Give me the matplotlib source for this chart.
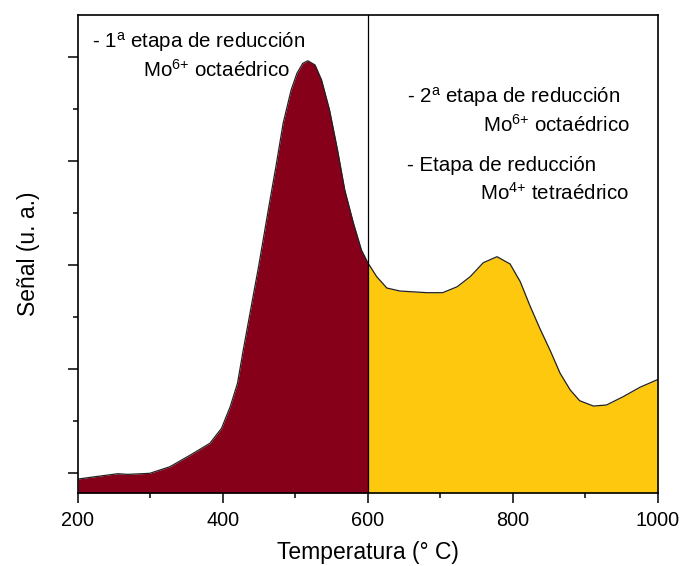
import matplotlib
matplotlib.use("Agg")
import matplotlib.pyplot as plt
from matplotlib.ticker import MultipleLocator, NullFormatter

plt.rcParams['font.family'] = ['Liberation Sans', 'DejaVu Sans']
plt.rcParams['mathtext.fontset'] = 'custom'
plt.rcParams['mathtext.rm'] = 'Liberation Sans'
plt.rcParams['mathtext.it'] = 'Liberation Sans'

# TPR profile: temperature (°C) and signal (a.u.)
temperature = [200, 223, 255, 269, 299, 327, 355, 382, 398, 410, 420, 428,
               440, 449, 463, 473, 483, 494, 502, 510, 517, 527, 536, 547,
               558, 568, 580, 591, 600,
               612, 626, 644, 681, 703, 723, 741, 759, 778, 796, 810, 823,
               837, 851, 865, 879, 892, 911, 929, 952, 975, 1000]
signal = [-0.058, -0.036, -0.007, -0.013, -0.003, 0.061, 0.173, 0.286, 0.430,
          0.638, 0.862, 1.183, 1.640, 1.980, 2.550, 2.945, 3.363, 3.683, 3.843,
          3.939, 3.964, 3.923, 3.779, 3.490, 3.106, 2.721, 2.401, 2.144, 2.019,
          1.888, 1.779, 1.750, 1.734, 1.734, 1.791, 1.888, 2.022, 2.080, 2.010,
          1.840, 1.615, 1.391, 1.183, 0.959, 0.798, 0.695, 0.644, 0.654, 0.734,
          0.824, 0.900]

split_temp = 600
x_ticks = [200, 400, 600, 800, 1000]
y_min, y_max = -0.192, 4.404

fig = plt.figure(figsize=(6.81, 5.66), dpi=100)
ax = fig.add_axes([0.1145, 0.129, 0.8517, 0.8445])

low_x = [t for t in temperature if t <= split_temp]
low_y = signal[:len(low_x)]
high_x = [t for t in temperature if t >= split_temp]
high_y = signal[len(temperature) - len(high_x):]

ax.fill_between(low_x, low_y, y_min, color='#860019', lw=0)
ax.fill_between(high_x, high_y, y_min, color='#FEC80F', lw=0)
ax.plot(temperature, signal, color='#222222', lw=0.9,
        solid_joinstyle='round', antialiased=True)
ax.axvline(split_temp, color='black', lw=0.9)

ax.set_xlim(200, 1000)
ax.set_ylim(y_min, y_max)
ax.set_xticks(x_ticks)
ax.xaxis.set_minor_locator(MultipleLocator(100))
ax.yaxis.set_major_locator(MultipleLocator(1))
ax.yaxis.set_minor_locator(MultipleLocator(0.5))
ax.yaxis.set_major_formatter(NullFormatter())
ax.tick_params(axis='both', which='major', direction='out', length=7, width=1.1,
               labelsize=14.3, top=False, right=False)
ax.tick_params(axis='both', which='minor', direction='out', length=3.5, width=1.1,
               top=False, right=False)
ax.tick_params(axis='x', pad=6)
for s in ax.spines.values():
    s.set_linewidth(1.2)

ax.set_xlabel('Temperatura (° C)', fontsize=16.5, labelpad=8)
ax.set_ylabel('Señal (u. a.)', fontsize=16.5, labelpad=17)

fs = 14.8
ax.text(0.024, 0.9435, r'- 1$^{\mathrm{a}}$ etapa de reducción', transform=ax.transAxes,
        fontsize=fs, va='center', ha='left')
ax.text(0.112, 0.885, r'Mo$^{\mathrm{6{+}}}$ octaédrico', transform=ax.transAxes,
        fontsize=fs, va='center', ha='left')
ax.text(0.567, 0.828, r'- 2$^{\mathrm{a}}$ etapa de reducción', transform=ax.transAxes,
        fontsize=fs, va='center', ha='left')
ax.text(0.698, 0.770, r'Mo$^{\mathrm{6{+}}}$ octaédrico', transform=ax.transAxes,
        fontsize=fs, va='center', ha='left')
ax.text(0.567, 0.686, '- Etapa de reducción', transform=ax.transAxes,
        fontsize=fs, va='center', ha='left')
ax.text(0.693, 0.628, r'Mo$^{\mathrm{4{+}}}$ tetraédrico', transform=ax.transAxes,
        fontsize=fs, va='center', ha='left')

fig.savefig('out.png', dpi=100)
